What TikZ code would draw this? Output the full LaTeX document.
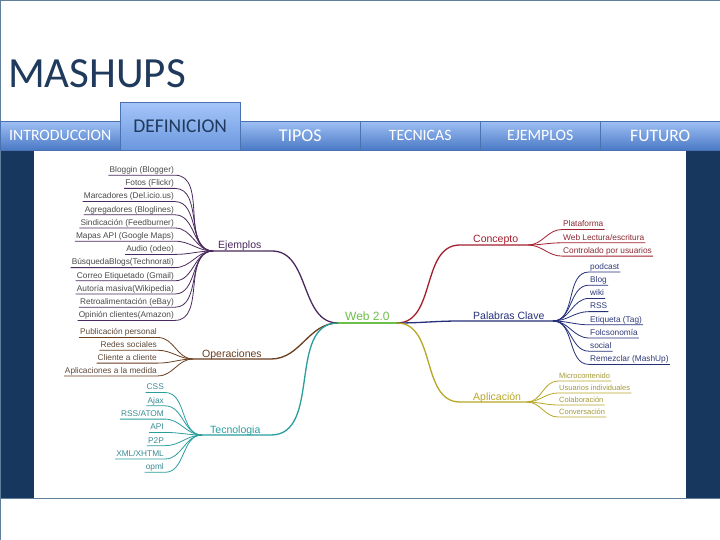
\documentclass[tikz,border=0pt]{standalone}
\usepackage{fontspec}
\setmainfont{Carlito}
\newfontfamily\mapfont{Liberation Sans}
\definecolor{navyband}{HTML}{17375E}
\definecolor{framecol}{HTML}{5F7F9C}
\definecolor{titlecol}{HTML}{1F3A5C}
\definecolor{tabtop}{HTML}{9FC0F4}
\definecolor{tabbot}{HTML}{4A79C6}
\definecolor{deftop}{HTML}{A6C6FA}
\definecolor{defbot}{HTML}{6A97DE}
\definecolor{tabedge}{HTML}{4A72B0}
\definecolor{webcol}{HTML}{6CC04A}
\definecolor{ejcol}{HTML}{4A2A5E}
\definecolor{ejtext}{HTML}{4A4A4A}
\definecolor{opcol}{HTML}{6B3E1E}
\definecolor{optext}{HTML}{5E4A3C}
\definecolor{tecol}{HTML}{2A9D9D}
\definecolor{tetext}{HTML}{3A8C94}
\definecolor{cocol}{HTML}{A31F2E}
\definecolor{cotext}{HTML}{8A2A33}
\definecolor{pacol}{HTML}{26307A}
\definecolor{patext}{HTML}{2F3A7A}
\definecolor{apcol}{HTML}{B8A626}
\definecolor{aptext}{HTML}{A39A3A}
\begin{document}
\begin{tikzpicture}[x=1pt,y=-1pt]
	\tikzstyle{tab}=[draw=tabedge,top color=tabtop,bottom color=tabbot,minimum width=120pt,minimum height=29pt,inner sep=0pt,anchor=north west,text=white]
	\tikzstyle{leaf}=[inner xsep=1pt,inner ysep=0.5pt,text height=6pt,text depth=2pt,font=\mapfont\fontsize{8.3}{9}\selectfont]
	\tikzstyle{small leaf}=[leaf,font=\mapfont\fontsize{7.5}{8}\selectfont]
	\tikzstyle{branch}=[inner sep=0pt,anchor=base west,font=\mapfont\fontsize{10.5}{11}\selectfont]
	\tikzstyle{main line}=[line width=1.3pt]
	\tikzstyle{leaf line}=[line width=0.8pt]
	\useasboundingbox (0,0) rectangle (720,540);
	\fill[white] (0,0) rectangle (720,540);
	\fill[navyband] (0,150) rectangle (720,498);
	\fill[white] (34,150) rectangle (686,498);
	\draw[framecol,line width=0.8pt] (0.5,540) -- (0.5,0.5) -- (720,0.5);
	\draw[framecol,line width=0.8pt] (0,498) -- (720,498);
	\node[anchor=base west,inner sep=0pt,text=titlecol,font=\fontsize{43}{43}\selectfont] (title) at (8,88) {MASHUPS};
	\node[tab,font=\fontsize{15.8}{16}\selectfont] (intro) at (0,121) {INTRODUCCION};
	\node[tab,font=\fontsize{18}{18}\selectfont] (tipos) at (240,121) {TIPOS};
	\node[tab,font=\fontsize{15.8}{16}\selectfont] (tecnicas) at (360,121) {TECNICAS};
	\node[tab,font=\fontsize{15.8}{16}\selectfont] (ejemplostab) at (480,121) {EJEMPLOS};
	\node[tab,font=\fontsize{17.5}{18}\selectfont] (futuro) at (600,121) {FUTURO};
	\node[tab,minimum height=48pt,top color=deftop,bottom color=defbot,text=titlecol,font=\fontsize{19.5}{20}\selectfont] (definicion) at (120,102) {DEFINICION};
	\coordinate (wl) at (338,323);
	\coordinate (wr) at (397,323);
	\node[branch,text=webcol,font=\mapfont\fontsize{12}{13}\selectfont] (web) at (345,320.5) {Web 2.0};
	\draw[webcol,main line] (wl) -- (wr);
	\coordinate (ejh) at (213,251);
	\coordinate (eje) at (272,251);
	\node[branch,text=ejcol] (ejemplos) at (218,248) {Ejemplos};
	\draw[ejcol,main line] (wl) to[out=180,in=0] (eje) -- (ejh);
	\foreach \lbl [count=\i] in {Bloggin (Blogger),Fotos (Flickr),Marcadores (Del.icio.us),Agregadores (Bloglines),Sindicación (Feedburner),Mapas API (Google Maps),Audio (odeo),BúsquedaBlogs(Technorati),Correo Etiquetado (Gmail),Autoría masiva(Wikipedia),Retroalimentación (eBay),Opinión clientes(Amazon)}{
		\node[leaf,anchor=south east,text=ejtext] (ej\i) at (175,{162+13.2*\i}) {\lbl};
		\draw[ejcol,leaf line] (ejh) to[out=180,in=0] (ej\i.south east) -- (ej\i.south west);
	}
	\coordinate (oph) at (193,359);
	\coordinate (ope) at (271,359);
	\node[branch,text=opcol] (operaciones) at (202,357) {Operaciones};
	\draw[opcol,main line] (wl) to[out=180,in=0] (ope) -- (oph);
	\foreach \lbl [count=\i] in {Publicación personal,Redes sociales,Cliente a cliente,Aplicaciones a la medida}{
		\node[leaf,anchor=south east,text=optext] (op\i) at (158,{324.7+12.8*\i}) {\lbl};
		\draw[opcol,leaf line] (oph) to[out=180,in=0] (op\i.south east) -- (op\i.south west);
	}
	\coordinate (teh) at (202,435);
	\coordinate (tee) at (271,435);
	\node[branch,text=tecol] (tecnologia) at (210,433) {Tecnologia};
	\draw[tecol,main line] (wl) to[out=180,in=0] (tee) -- (teh);
	\foreach \lbl [count=\i] in {CSS,Ajax,RSS/ATOM,API,P2P,XML/XHTML,opml}{
		\node[leaf,anchor=south east,text=tetext] (te\i) at (165,{379.2+13.3*\i}) {\lbl};
		\draw[tecol,leaf line] (teh) to[out=180,in=0] (te\i.south east) -- (te\i.south west);
	}
	\coordinate (coh) at (528,245);
	\coordinate (coe) at (460,245);
	\node[branch,text=cocol] (concepto) at (473,243) {Concepto};
	\draw[cocol,main line] (wr) to[out=0,in=180] (coe) -- (coh);
	\foreach \lbl [count=\i] in {Plataforma,Web Lectura/escritura,Controlado por usuarios}{
		\node[leaf,anchor=south west,text=cotext] (co\i) at (562,{216.2+13.3*\i}) {\lbl};
		\draw[cocol,leaf line] (coh) to[out=0,in=180] (co\i.south west) -- (co\i.south east);
	}
	\coordinate (pah) at (553,321);
	\coordinate (pae) at (460,321);
	\node[branch,text=pacol] (palabras) at (473,319) {Palabras Clave};
	\draw[pacol,main line] (wr) to[out=0,in=180] (pae) -- (pah);
	\foreach \lbl [count=\i] in {podcast,Blog,wiki,RSS,Etiqueta (Tag),Folcsonomía,social,Remezclar (MashUp)}{
		\node[leaf,anchor=south west,text=patext] (pa\i) at (589,{258.8+13.2*\i}) {\lbl};
		\draw[pacol,leaf line] (pah) to[out=0,in=180] (pa\i.south west) -- (pa\i.south east);
	}
	\coordinate (aph) at (527,402);
	\coordinate (ape) at (460,402);
	\node[branch,text=apcol] (aplicacion) at (473,400) {Aplicación};
	\draw[apcol,main line] (wr) to[out=0,in=180] (ape) -- (aph);
	\foreach \lbl [count=\i] in {Microcontenido,Usuarios individuales,Colaboración,Conversación}{
		\node[small leaf,anchor=south west,text=aptext] (ap\i) at (558,{369+12*\i}) {\lbl};
		\draw[apcol,leaf line] (aph) to[out=0,in=180] (ap\i.south west) -- (ap\i.south east);
	}
\end{tikzpicture}
\end{document}
